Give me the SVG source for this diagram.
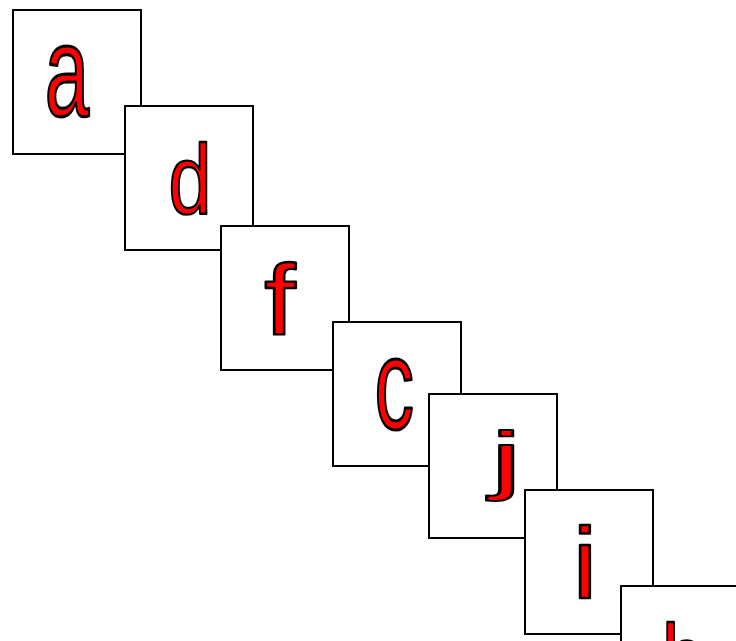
<svg xmlns="http://www.w3.org/2000/svg" width="736" height="641" viewBox="0 0 736 641">
<style>
.box{fill:#fff;stroke:#000;stroke-width:2}
.lbl{font-family:"Liberation Sans",Arial,sans-serif;font-size:100px;fill:#f00;stroke:#000;stroke-width:2.4;stroke-linejoin:round}
</style>
<rect width="736" height="641" fill="#fff"/>
<g id="connectors"></g>
<g id="node-a"><rect class="box" x="13" y="10" width="128" height="144"/><text class="lbl" transform="translate(44.8,115.7) scale(0.799,1.3)">a</text></g>
<g id="node-d"><rect class="box" x="125" y="106" width="128" height="144"/><text class="lbl" transform="translate(168.4,212.8) scale(0.774,0.979)">d</text></g>
<g id="node-f"><rect class="box" x="221" y="226" width="128" height="144"/><text class="lbl" transform="translate(264.3,335) scale(1.128,0.993)">f</text></g>
<g id="node-c"><rect class="box" x="333" y="322" width="128" height="144"/><text class="lbl" transform="translate(374.6,429.1) scale(0.791,1.304)">c</text></g>
<g id="node-j"><rect class="box" x="429" y="394" width="128" height="144"/><text class="lbl" transform="translate(490.3,485.2) scale(1.437,0.767)">j</text></g>
<g id="node-i"><rect class="box" x="525" y="490" width="128" height="144"/><text class="lbl" transform="translate(572.7,598.3) scale(1.1,1.006)">i</text></g>
<g id="node-b"><rect class="box" x="621" y="586" width="128" height="144"/><text class="lbl" transform="translate(662,692.8) scale(0.774,0.979)">b</text></g>
</svg>
